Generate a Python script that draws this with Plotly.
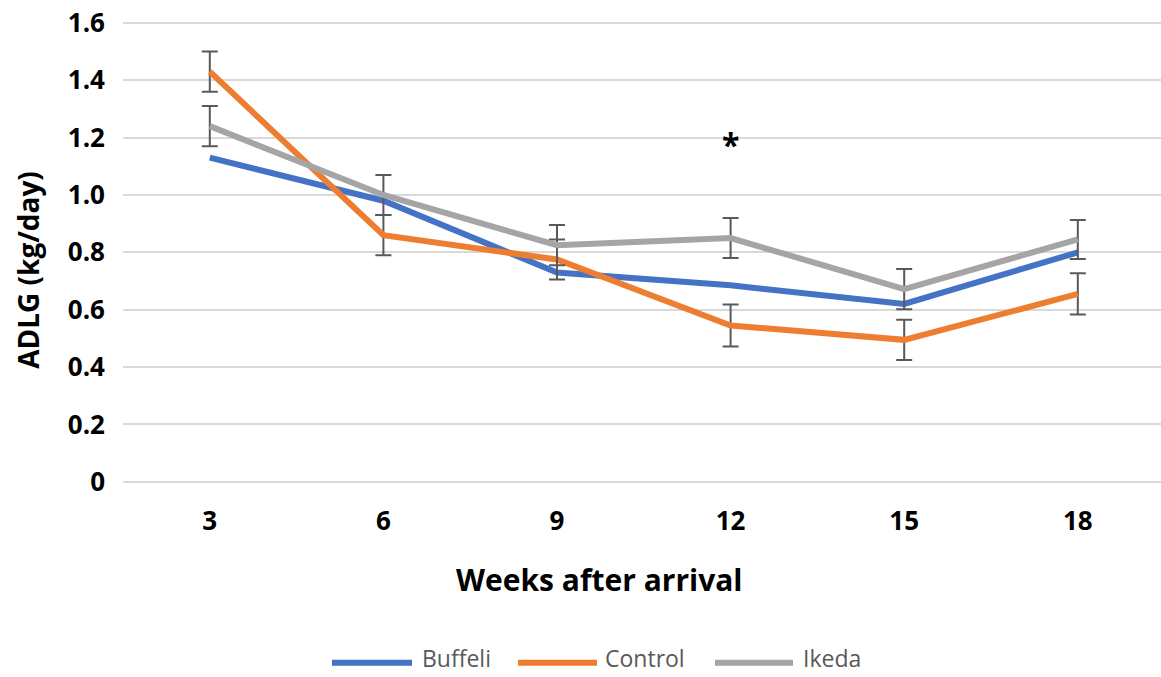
import plotly.graph_objects as go

weeks = ["3", "6", "9", "12", "15", "18"]
buffeli = [1.13, 0.98, 0.73, 0.685, 0.62, 0.80]
control = [1.43, 0.86, 0.775, 0.545, 0.495, 0.655]
ikeda = [1.24, 1.00, 0.825, 0.85, 0.672, 0.845]
control_err = [0.07, 0.07, 0.07, 0.073, 0.07, 0.072]
ikeda_err = [0.07, 0.07, 0.07, 0.07, 0.07, 0.068]
y_ticks = [0, 0.2, 0.4, 0.6, 0.8, 1.0, 1.2, 1.4, 1.6]
y_ticktext = ["0", "0.2", "0.4", "0.6", "0.8", "1.0", "1.2", "1.4", "1.6"]
series_names = ["Buffeli", "Control", "Ikeda"]
series_colors = ["#4472C4", "#ED7D31", "#A5A5A5"]
star_week_index = 3
star_value = 1.185

FONT = "Open Sans, Noto Sans, sans-serif"
idx = list(range(len(weeks)))

W, H = 1161, 677
# axis range padded slightly so the 0 and 1.6 gridlines are drawn inside the plot
Y0, Y1 = -0.004, 1.61
UNIT = (482 - 23) / 1.6          # pixels per kg/day
top_px = 482 - Y1 * UNIT
bot_px = 482 - Y0 * UNIT
L, T = 123, top_px
B = H - bot_px
R = 0
PW, PH = W - L - R, H - T - B


def px_x(px):
    return (px - L) / PW


def px_y(py):
    return (H - B - py) / PH


fig = go.Figure()
err_style = dict(type="data", visible=True, color="#595959", thickness=2, width=8)
fig.add_trace(go.Scatter(x=idx, y=buffeli, name=series_names[0], mode="lines",
                         line=dict(color=series_colors[0], width=6)))
fig.add_trace(go.Scatter(x=idx, y=control, name=series_names[1], mode="lines",
                         line=dict(color=series_colors[1], width=6),
                         error_y=dict(array=control_err, **err_style)))
fig.add_trace(go.Scatter(x=idx, y=ikeda, name=series_names[2], mode="lines",
                         line=dict(color=series_colors[2], width=6),
                         error_y=dict(array=ikeda_err, **err_style)))

# significance marker
fig.add_annotation(x=idx[star_week_index], y=star_value, text="<b>*</b>", showarrow=False,
                   yshift=-3, font=dict(family=FONT, size=32, color="black"),
                   xref="x", yref="y")

# axis titles
fig.add_annotation(x=px_x(599), y=px_y(580), xref="paper", yref="paper",
                   text="<b>Weeks after arrival</b>", showarrow=False,
                   xanchor="center", yanchor="middle",
                   font=dict(family=FONT, size=30, color="black"))
fig.add_annotation(x=px_x(28), y=px_y(270), xref="paper", yref="paper",
                   text="<b>ADLG (kg/day)</b>", showarrow=False, textangle=-90,
                   xanchor="center", yanchor="middle",
                   font=dict(family=FONT, size=28, color="black"))

# custom legend (long line samples as in the original)
legend_items = [(332, 412, 420), (518, 597, 603), (715, 793, 801)]
ly = px_y(663)
for (x0, x1, tx), name, col in zip(legend_items, series_names, series_colors):
    fig.add_shape(type="line", xref="paper", yref="paper", x0=px_x(x0), x1=px_x(x1),
                  y0=ly, y1=ly, line=dict(color=col, width=6))
    fig.add_annotation(x=px_x(tx), y=px_y(676), xref="paper", yref="paper", text=name,
                       showarrow=False, xanchor="left", yanchor="bottom",
                       font=dict(family=FONT, size=23, color="#595959"))

fig.update_layout(
    width=W, height=H,
    margin=dict(l=L, r=R, t=T, b=B, pad=0),
    paper_bgcolor="white", plot_bgcolor="white",
    font=dict(family=FONT, color="black"),
    showlegend=False,
    xaxis=dict(range=[-0.5, -0.5 + PW / 173.6], tickmode="array", tickvals=idx, ticktext=weeks,
               showgrid=False, zeroline=False, showline=False, ticks="", automargin=False,
               tickfont=dict(family=FONT, size=26, color="black", weight="bold"),
               ticklabelstandoff=20, ticklabeloverflow="allow"),
    yaxis=dict(range=[Y0, Y1], tickmode="array", tickvals=y_ticks, ticktext=y_ticktext,
               showgrid=True, gridcolor="#D9D9D9", gridwidth=1.5, zeroline=False, showline=False,
               ticks="", automargin=False, ticklabeloverflow="allow",
               tickfont=dict(family=FONT, size=26, color="black", weight="bold"),
               ticklabelstandoff=17),
)

# remove the browser's default 8px page margin so the figure fills the window exactly
fig.write_html("out.html", config={"displayModeBar": False},
               post_script="document.body.style.margin='0';")
